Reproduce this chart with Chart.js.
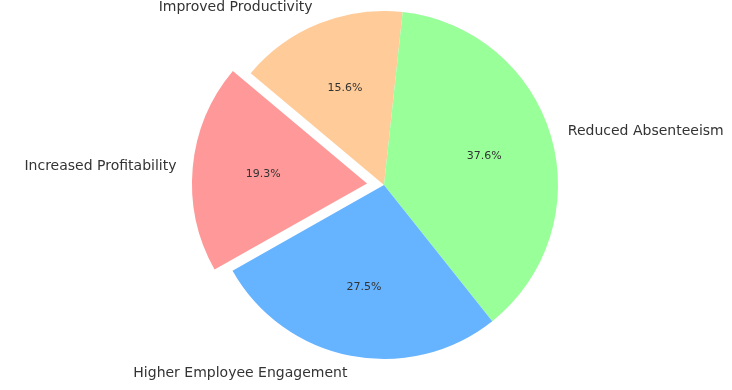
<!DOCTYPE html>
<html>
<head>
<meta charset="utf-8">
<script src="https://cdn.jsdelivr.net/npm/chart.js@4"></script>
<style>
  html, body { margin: 0; padding: 0; background: #fff; }
  #wrap { width: 732px; height: 390px; }
</style>
</head>
<body>
<div id="wrap"><canvas id="chart" width="732" height="390"></canvas></div>
<script>
// order is clockwise (Chart.js), reference is drawn counter-clockwise
let labels = ["Improved Productivity", "Reduced Absenteeism", "Higher Employee Engagement", "Increased Profitability"];
let values = [15.6, 37.6, 27.5, 19.3];
let colors = ["#ffcc99", "#99ff99", "#66b3ff", "#ff9999"];
// Chart.js moves an arc by offset / 4, so 68 -> ~17px explode
let offsets = [0, 0, 0, 68];

// labels outside + percentages inside, placed from the arc geometry
let pieLabels = {
    id: "pieLabels",
    afterDatasetsDraw(chart) {
        let ctx = chart.ctx;
        let meta = chart.getDatasetMeta(0);
        let total = values.reduce((a, b) => a + b, 0);
        ctx.save();
        ctx.fillStyle = "#333333";
        ctx.textBaseline = "middle";
        meta.data.forEach((arc, i) => {
            let p = arc.getProps(["x", "y", "startAngle", "endAngle", "outerRadius"], true);
            let mid = (p.startAngle + p.endAngle) / 2;
            let off = offsets[i] / 4;
            let cx = p.x + Math.cos(mid) * off;
            let cy = p.y + Math.sin(mid) * off;
            let r = p.outerRadius;

            ctx.font = "14px 'DejaVu Sans'";
            let lx = cx + Math.cos(mid) * r * 1.1;
            let ly = cy + Math.sin(mid) * r * 1.1;
            ctx.textAlign = Math.cos(mid) >= 0 ? "left" : "right";
            ctx.fillText(labels[i], lx, ly);

            ctx.font = "11px 'DejaVu Sans'";
            ctx.textAlign = "center";
            let px = cx + Math.cos(mid) * r * 0.6;
            let py = cy + Math.sin(mid) * r * 0.6;
            ctx.fillText((values[i] / total * 100).toFixed(1) + "%", px, py);
        });
        ctx.restore();
    }
};

let ctx = document.getElementById("chart").getContext("2d");
new Chart(ctx, {
    type: "pie",
    data: {
        labels: labels,
        datasets: [{
            data: values,
            backgroundColor: colors,
            borderWidth: 0,
            offset: offsets
        }]
    },
    options: {
        responsive: false,
        animation: false,
        rotation: -50,
        radius: 174,
        layout: { padding: { left: 200, right: 164, top: 3, bottom: 23 } },
        plugins: {
            legend: { display: false },
            tooltip: { enabled: false }
        }
    },
    plugins: [pieLabels]
});
</script>
</body>
</html>
